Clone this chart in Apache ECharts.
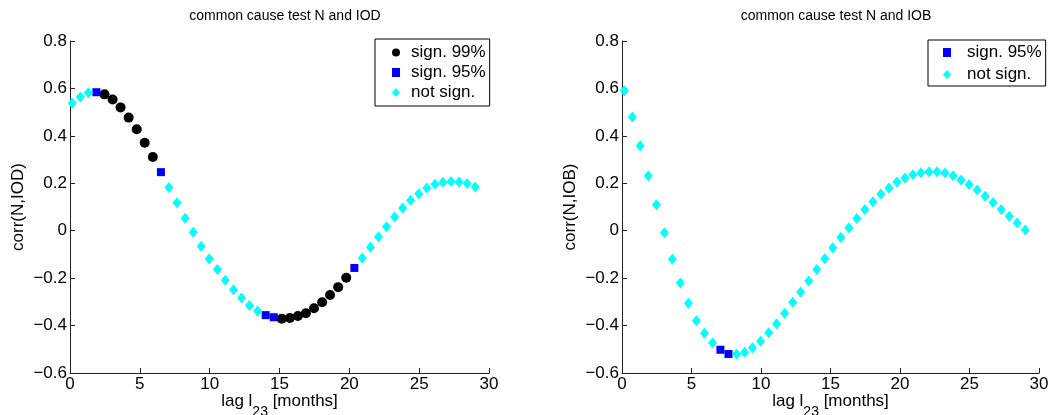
<!DOCTYPE html>
<html>
<head>
<meta charset="utf-8">
<script src="https://cdn.jsdelivr.net/npm/echarts@6/dist/echarts.min.js"></script>
<style>
html,body{margin:0;padding:0;background:#fff;}
#c{width:1062px;height:415px;}
</style>
</head>
<body>
<div id="c"></div>
<script>
// lag in months (shared by both panels)
const lags = [0.16,0.74,1.31,1.89,2.47,3.05,3.62,4.20,4.78,5.35,5.93,6.51,7.08,7.66,8.24,8.82,9.39,9.97,10.55,11.12,11.70,12.28,12.85,13.43,14.01,14.59,15.16,15.74,16.32,16.89,17.47,18.05,18.62,19.20,19.78,20.36,20.93,21.51,22.09,22.66,23.24,23.82,24.39,24.97,25.55,26.13,26.70,27.28,27.86,28.43,29.01];

// left panel: corr(N,IOD)
const iodCorr = [0.538,0.564,0.582,0.584,0.575,0.553,0.520,0.477,0.428,0.371,0.311,0.247,0.182,0.118,0.053,-0.006,-0.065,-0.118,-0.164,-0.209,-0.249,-0.284,-0.315,-0.339,-0.356,-0.365,-0.371,-0.368,-0.360,-0.348,-0.327,-0.302,-0.271,-0.238,-0.198,-0.157,-0.115,-0.070,-0.027,0.017,0.058,0.096,0.128,0.156,0.180,0.196,0.204,0.208,0.205,0.199,0.184];
const iodSig = ['ns','ns','ns','95','99','99','99','99','99','99','99','95','ns','ns','ns','ns','ns','ns','ns','ns','ns','ns','ns','ns','95','95','99','99','99','99','99','99','99','99','99','95','ns','ns','ns','ns','ns','ns','ns','ns','ns','ns','ns','ns','ns','ns','ns'];

// right panel: corr(N,IOB)
const iobCorr = [0.590,0.480,0.358,0.232,0.110,-0.009,-0.120,-0.221,-0.306,-0.380,-0.432,-0.474,-0.502,-0.520,-0.520,-0.512,-0.493,-0.466,-0.430,-0.392,-0.348,-0.302,-0.258,-0.212,-0.164,-0.118,-0.072,-0.029,0.012,0.051,0.089,0.122,0.155,0.180,0.205,0.222,0.236,0.244,0.249,0.249,0.243,0.232,0.214,0.195,0.172,0.145,0.119,0.089,0.061,0.033,0.003];
const iobSig = ['ns','ns','ns','ns','ns','ns','ns','ns','ns','ns','ns','ns','95','95','ns','ns','ns','ns','ns','ns','ns','ns','ns','ns','ns','ns','ns','ns','ns','ns','ns','ns','ns','ns','ns','ns','ns','ns','ns','ns','ns','ns','ns','ns','ns','ns','ns','ns','ns','ns','ns'];

const xTicks = {min: 0, max: 30, interval: 5};
const yTicks = {min: -0.6, max: 0.8, interval: 0.2};

const titles = ['common cause test N and IOD', 'common cause test N and IOB'];
const yNames = ['corr(N,IOD)', 'corr(N,IOB)'];
const sigNames = {'99': 'sign. 99%', '95': 'sign. 95%', 'ns': 'not sign.'};

const FONT = 'Liberation Sans, Arial, Helvetica, sans-serif';

function pick(corr, sig, key) {
  const out = [];
  for (let i = 0; i < lags.length; i++) if (sig[i] === key) out.push([lags[i], corr[i]]);
  return out;
}

const styleFor = {
  '99': {symbol: 'circle', symbolSize: 10, color: '#000000'},
  '95': {symbol: 'rect', symbolSize: 8, color: '#0000ff'},
  'ns': {symbol: 'diamond', symbolSize: [9, 11], color: '#00ffff'}
};

function mkSeries(corr, sig, keys, idx) {
  return keys.map(k => ({
    type: 'scatter',
    name: sigNames[k],
    xAxisIndex: idx, yAxisIndex: idx,
    symbol: styleFor[k].symbol,
    symbolSize: styleFor[k].symbolSize,
    itemStyle: {color: styleFor[k].color, opacity: 1},
    emphasis: {disabled: true},
    data: pick(corr, sig, k)
  }));
}

const fmtY = v => { const r = Math.round(v * 10) / 10; return String(r).replace('-', '\u2212'); };

function xAxis(idx) {
  return {
    type: 'value', gridIndex: idx, min: xTicks.min, max: xTicks.max, interval: xTicks.interval,
    name: '{m|lag l}{sub|23}{m| [months]}', nameLocation: 'middle', nameGap: 20, nameMoveOverlap: false,
    nameTextStyle: {
      color: '#000', fontFamily: FONT, fontSize: 17, verticalAlign: 'top',
      rich: {
        m: {fontSize: 17, fontFamily: FONT, color: '#000', verticalAlign: 'top', lineHeight: 26},
        sub: {fontSize: 14, fontFamily: FONT, color: '#000', verticalAlign: 'bottom', lineHeight: 26}
      }
    },
    axisLine: {onZero: false, lineStyle: {color: '#222', width: 1}},
    axisTick: {inside: true, length: 5, lineStyle: {color: '#222'}},
    axisLabel: {color: '#000', fontFamily: FONT, fontSize: 17, margin: 3},
    splitLine: {show: false}
  };
}
function yAxis(idx) {
  return {
    type: 'value', gridIndex: idx, min: yTicks.min, max: yTicks.max, interval: yTicks.interval,
    name: yNames[idx], nameLocation: 'middle', nameGap: 43, nameMoveOverlap: false,
    nameTextStyle: {color: '#000', fontFamily: FONT, fontSize: 17},
    axisLine: {onZero: false, lineStyle: {color: '#222', width: 1}},
    axisTick: {inside: true, length: 5, lineStyle: {color: '#222'}},
    axisLabel: {color: '#000', fontFamily: FONT, fontSize: 17, margin: 3, formatter: fmtY},
    splitLine: {show: false}
  };
}

const legendBase = {
  orient: 'vertical', selectedMode: false,
  backgroundColor: '#fff', borderColor: '#000', borderWidth: 1,
  itemWidth: 8, itemHeight: 9, itemGap: 3,
  textStyle: {color: '#000', fontFamily: FONT, fontSize: 17, lineHeight: 17, padding: [0, 0, 0, 6]}
};

const option = {
  animation: false,
  backgroundColor: '#fff',
  title: [
    {text: titles[0], left: 280, top: 4, textAlign: 'center',
     textStyle: {color: '#000', fontFamily: FONT, fontSize: 14, fontWeight: 'normal'}},
    {text: titles[1], left: 831, top: 4, textAlign: 'center',
     textStyle: {color: '#000', fontFamily: FONT, fontSize: 14, fontWeight: 'normal'}}
  ],
  grid: [
    {left: 70, top: 41, width: 419, height: 332, containLabel: false, outerBoundsMode: 'none'},
    {left: 622, top: 41, width: 417, height: 332, containLabel: false, outerBoundsMode: 'none'}
  ],
  xAxis: [xAxis(0), xAxis(1)],
  yAxis: [yAxis(0), yAxis(1)],
  legend: [
    Object.assign({}, legendBase, {left: 375, top: 39, padding: [5, 4, 5, 17],
      data: [sigNames['99'], sigNames['95'], sigNames['ns']]}),
    Object.assign({}, legendBase, {left: 928, top: 40, itemGap: 5, padding: [4, 4, 3, 15],
      textStyle: Object.assign({}, legendBase.textStyle, {padding: [0, 0, 0, 11]}),
      data: [sigNames['95'], sigNames['ns']]})
  ],
  series: [].concat(
    mkSeries(iodCorr, iodSig, ['99', '95', 'ns'], 0),
    mkSeries(iobCorr, iobSig, ['95', 'ns'], 1)
  )
};

const chart = echarts.init(document.getElementById('c'), null, {renderer: 'canvas'});
chart.setOption(option);
</script>
</body>
</html>
